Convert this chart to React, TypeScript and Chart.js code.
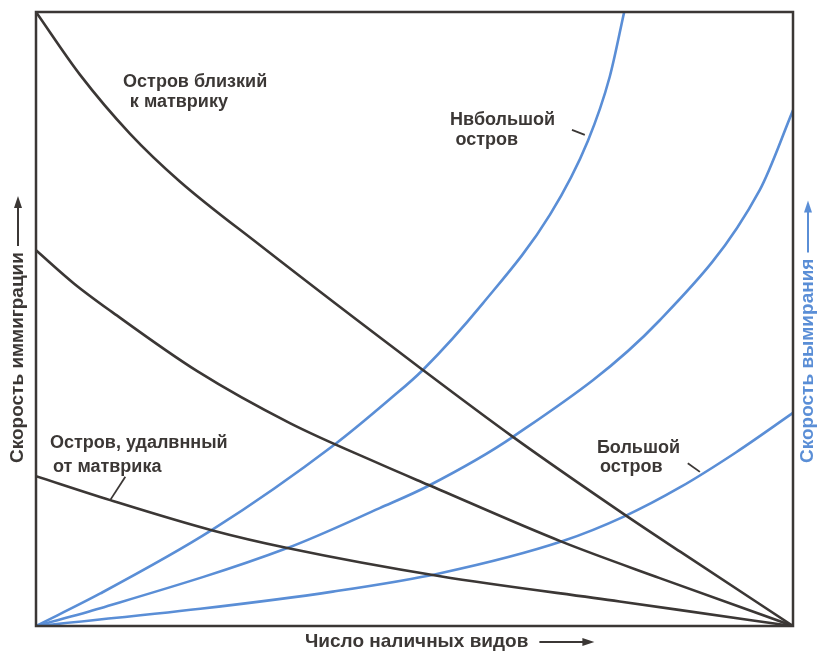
import React, { useEffect, useRef } from "react";
import { Chart, registerables } from "chart.js";

Chart.register(...registerables);

// ---- data (x: число видов, 0..100; y: скорость, 0..100) ----
const nearX = [0, 5.8, 12.4, 19.0, 29.6, 51.1, 63.0, 77.8, 85.1, 100];
const nearY = [100, 89.8, 80.2, 72.4, 62.0, 41.7, 30.8, 18.1, 12.1, 0];

const midX = [0, 5.0, 10.2, 21.3, 33.6, 45.4, 51.8, 69.5, 82.4, 100];
const midY = [61.2, 55.8, 51.0, 41.5, 33.0, 26.4, 23.0, 13.7, 7.8, 0];

const farX = [0, 9.8, 23.2, 33.2, 53.4, 77.1, 94.7, 100];
const farY = [24.4, 20.5, 15.6, 12.7, 8.1, 4.0, 0.9, 0];

const smallX = [0, 8.5, 23.2, 39.5, 46.8, 51.1, 59.0, 67.9, 72.9, 75.8, 77.7];
const smallY = [0, 5.3, 15.6, 29.6, 37.0, 41.7, 52.5, 67.0, 79.0, 89.5, 100];

const mediumX = [0, 8.5, 33.2, 45.4, 51.8, 63.0, 82.4, 95.6, 100];
const mediumY = [0, 2.9, 12.7, 19.2, 22.8, 30.8, 49.8, 71.0, 84.0];

const largeX = [0, 21.7, 39.2, 53.4, 69.5, 77.8, 85.1, 92.5, 100];
const largeY = [0, 2.8, 5.6, 8.6, 13.8, 17.9, 22.6, 28.3, 34.7];

const yTitleLeft = "Скорость иммиграции";
const yTitleRight = "Скорость вымирания";
const xTitle = "Число наличных видов";

const labelTexts = [
  "Остров близкий",
  "к матврику",
  "Остров, удалвнный",
  "от матврика",
  "Нвбольшой",
  "остров",
  "Большой",
  "остров",
];
// label anchor positions in data units (left, middle)
const labelX = [11.5, 12.4, 1.85, 2.25, 54.7, 55.4, 74.1, 74.5];
const labelY = [88.6, 85.3, 29.8, 25.9, 82.4, 79.2, 29.0, 25.9];

// leader lines [x1, y1, x2, y2] in data units
const leaders = [
  [11.8, 24.3, 9.8, 20.5],
  [70.8, 80.8, 72.5, 80.0],
  [86.1, 26.5, 87.7, 25.1],
];

const DARK = "#3b3735";
const BLUE = "#5a8ed6";
const FONT = '"Liberation Sans", Arial, sans-serif';

const pts = (xs: number[], ys: number[]) => xs.map((x, i) => ({ x, y: ys[i] }));

function arrow(ctx: CanvasRenderingContext2D, x1: number, y1: number, x2: number, y2: number, color: string) {
  const ang = Math.atan2(y2 - y1, x2 - x1);
  ctx.save();
  ctx.strokeStyle = color;
  ctx.fillStyle = color;
  ctx.lineWidth = 2;
  ctx.beginPath();
  ctx.moveTo(x1, y1);
  ctx.lineTo(x2 - Math.cos(ang) * 6, y2 - Math.sin(ang) * 6);
  ctx.stroke();
  ctx.beginPath();
  ctx.moveTo(x2, y2);
  ctx.lineTo(x2 - Math.cos(ang) * 12 - Math.sin(ang) * 4, y2 - Math.sin(ang) * 12 + Math.cos(ang) * 4);
  ctx.lineTo(x2 - Math.cos(ang) * 12 + Math.sin(ang) * 4, y2 - Math.sin(ang) * 12 - Math.cos(ang) * 4);
  ctx.closePath();
  ctx.fill();
  ctx.restore();
}

const decorPlugin = {
  id: "decor",
  afterDatasetsDraw(chart: any) {
    const ctx: CanvasRenderingContext2D = chart.ctx;
    const { left, right, top, bottom } = chart.chartArea;
    const xs = chart.scales.x;
    const ys = chart.scales.y;
    ctx.save();
    // frame
    ctx.strokeStyle = DARK;
    ctx.lineWidth = 2.5;
    ctx.strokeRect(left, top, right - left, bottom - top);

    // annotation labels
    ctx.fillStyle = DARK;
    ctx.font = `bold 18px ${FONT}`;
    ctx.textBaseline = "middle";
    ctx.textAlign = "left";
    labelTexts.forEach((t, i) => {
      ctx.fillText(t, xs.getPixelForValue(labelX[i]), ys.getPixelForValue(labelY[i]));
    });
    // leaders
    ctx.strokeStyle = DARK;
    ctx.lineWidth = 1.8;
    leaders.forEach((l) => {
      ctx.beginPath();
      ctx.moveTo(xs.getPixelForValue(l[0]), ys.getPixelForValue(l[1]));
      ctx.lineTo(xs.getPixelForValue(l[2]), ys.getPixelForValue(l[3]));
      ctx.stroke();
    });

    // x title
    ctx.font = `bold 19px ${FONT}`;
    ctx.textAlign = "left";
    ctx.textBaseline = "middle";
    const xt = left + 269;
    const yt = bottom + 16;
    ctx.fillText(xTitle, xt, yt);
    const wx = ctx.measureText(xTitle).width;
    arrow(ctx, xt + wx + 11, yt, xt + wx + 66, yt, DARK);

    // left y title (rotated)
    ctx.save();
    ctx.translate(left - 18, bottom - 163);
    ctx.rotate(-Math.PI / 2);
    ctx.textAlign = "left";
    ctx.fillStyle = DARK;
    ctx.fillText(yTitleLeft, 0, 0);
    const wl = ctx.measureText(yTitleLeft).width;
    ctx.restore();
    arrow(ctx, left - 18, bottom - 163 - wl - 6, left - 18, bottom - 163 - wl - 56, DARK);

    // right y title (rotated)
    ctx.save();
    ctx.translate(right + 15, bottom - 163);
    ctx.rotate(-Math.PI / 2);
    ctx.textAlign = "left";
    ctx.fillStyle = BLUE;
    ctx.fillText(yTitleRight, 0, 0);
    const wr = ctx.measureText(yTitleRight).width;
    ctx.restore();
    arrow(ctx, right + 15, bottom - 163 - wr - 6, right + 15, bottom - 163 - wr - 58, BLUE);

    ctx.restore();
  },
};

export default function App() {
  const ref = useRef<HTMLCanvasElement | null>(null);
  useEffect(() => {
    if (!ref.current) return;
    const line = (data: any, color: string) => ({
      data,
      borderColor: color,
      borderWidth: 2.6,
      pointRadius: 0,
      showLine: true,
      fill: false,
      cubicInterpolationMode: "monotone" as const,
    });
    const chart = new Chart(ref.current, {
      type: "scatter",
      data: {
        datasets: [
          line(pts(nearX, nearY), DARK),
          line(pts(midX, midY), DARK),
          line(pts(farX, farY), DARK),
          line(pts(smallX, smallY), BLUE),
          line(pts(mediumX, mediumY), BLUE),
          line(pts(largeX, largeY), BLUE),
        ],
      },
      options: {
        animation: false,
        responsive: false,
        layout: { padding: { left: 36, right: 28, top: 12, bottom: 27 } },
        plugins: { legend: { display: false }, tooltip: { enabled: false } },
        scales: {
          x: { type: "linear", min: 0, max: 100, display: false },
          y: { type: "linear", min: 0, max: 100, display: false },
        },
      },
      plugins: [decorPlugin],
    });
    return () => chart.destroy();
  }, []);
  return (
    <div style={{ position: "absolute", left: 0, top: 0, width: 821, height: 653, background: "#fff" }}>
      <canvas ref={ref} width={821} height={653} style={{ display: "block" }} />
    </div>
  );
}
